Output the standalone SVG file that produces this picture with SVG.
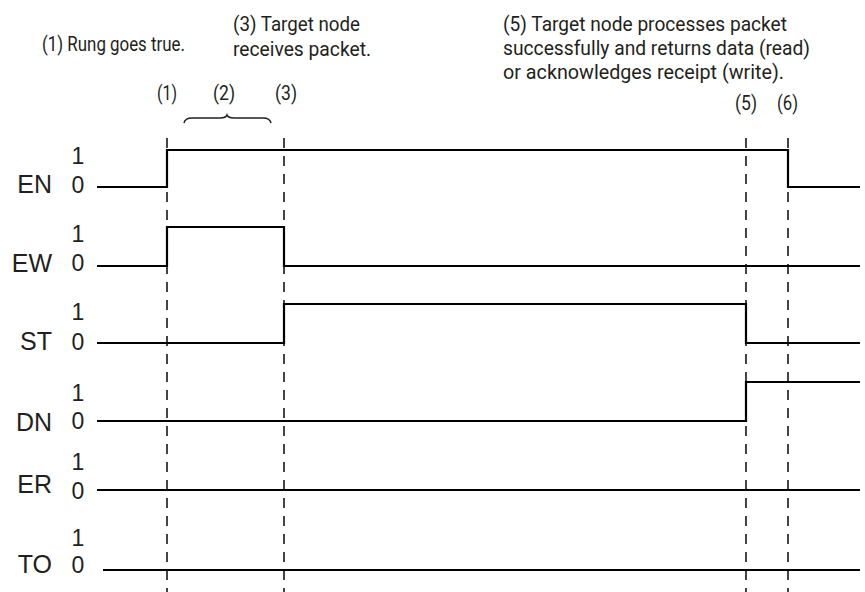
<svg xmlns="http://www.w3.org/2000/svg" width="865" height="592" viewBox="0 0 865 592">
<style>
.note{font-family:"Liberation Sans Narrow","Roboto","Liberation Sans",sans-serif;font-size:20px;fill:#231f20}
.sig{font-family:"Liberation Sans",Arial,sans-serif;font-size:25px;fill:#231f20}
.lvl{font-family:"Liberation Sans",Arial,sans-serif;font-size:23px;fill:#231f20;text-anchor:middle}
.wave{fill:none;stroke:#000;stroke-width:2.2;stroke-linejoin:miter}
.guide{fill:none;stroke:#444;stroke-width:2;stroke-dasharray:10 8}
</style>
<rect width="865" height="592" fill="#fff"/>
<g id="notes">
<text class="note" x="42" y="51" textLength="143" lengthAdjust="spacingAndGlyphs">(1) Rung goes true.</text>
<text class="note" x="233" y="31" textLength="127" lengthAdjust="spacingAndGlyphs">(3) Target node</text>
<text class="note" x="233" y="56" textLength="138" lengthAdjust="spacingAndGlyphs">receives packet.</text>
<text class="note" x="503" y="31" textLength="284" lengthAdjust="spacingAndGlyphs">(5) Target node processes packet</text>
<text class="note" x="503" y="55" textLength="307" lengthAdjust="spacingAndGlyphs">successfully and returns data (read)</text>
<text class="note" x="503" y="79" textLength="281" lengthAdjust="spacingAndGlyphs">or acknowledges receipt (write).</text>
</g>
<g id="markers">
<text class="note" x="157" y="100" textLength="20" lengthAdjust="spacingAndGlyphs">(1)</text>
<text class="note" x="213" y="100" textLength="22" lengthAdjust="spacingAndGlyphs">(2)</text>
<text class="note" x="275" y="100" textLength="22" lengthAdjust="spacingAndGlyphs">(3)</text>
<text class="note" x="735" y="110" textLength="22" lengthAdjust="spacingAndGlyphs">(5)</text>
<text class="note" x="777" y="110" textLength="21" lengthAdjust="spacingAndGlyphs">(6)</text>
<path id="brace" d="M184,123 Q185,118 192,118 H220 Q226,118 227,115 Q228,118 234,118 H263 Q270,118 271,123" fill="none" stroke="#231f20" stroke-width="1.5"/>
</g>
<g id="guides">
<line class="guide" x1="167" y1="138" x2="167" y2="592"/>
<line class="guide" x1="284" y1="138" x2="284" y2="592"/>
<line class="guide" x1="746" y1="138" x2="746" y2="592"/>
<line class="guide" x1="788" y1="138" x2="788" y2="592"/>
</g>
<g id="EN">
<text class="sig" x="52" y="193" text-anchor="end">EN</text>
<text class="lvl" x="78" y="164">1</text><text class="lvl" x="78" y="193">0</text>
<path class="wave" d="M97,187 H167 V150 H788 V187 H860"/>
</g>
<g id="EW">
<text class="sig" x="52" y="272" text-anchor="end">EW</text>
<text class="lvl" x="78" y="242">1</text><text class="lvl" x="78" y="271">0</text>
<path class="wave" d="M97,266 H167 V227 H284 V266 H860"/>
</g>
<g id="ST">
<text class="sig" x="52" y="350" text-anchor="end">ST</text>
<text class="lvl" x="78" y="320">1</text><text class="lvl" x="78" y="350">0</text>
<path class="wave" d="M97,343 H284 V304 H746 V343 H860"/>
</g>
<g id="DN">
<text class="sig" x="52" y="431" text-anchor="end">DN</text>
<text class="lvl" x="78" y="401">1</text><text class="lvl" x="78" y="429">0</text>
<path class="wave" d="M97,421 H746 V382 H860"/>
</g>
<g id="ER">
<text class="sig" x="52" y="493" text-anchor="end">ER</text>
<text class="lvl" x="78" y="470">1</text><text class="lvl" x="78" y="499">0</text>
<path class="wave" d="M97,490 H860"/>
</g>
<g id="TO">
<text class="sig" x="52" y="573" text-anchor="end">TO</text>
<text class="lvl" x="78" y="546">1</text><text class="lvl" x="78" y="573">0</text>
<path class="wave" d="M103,570 H860"/>
</g>
</svg>
